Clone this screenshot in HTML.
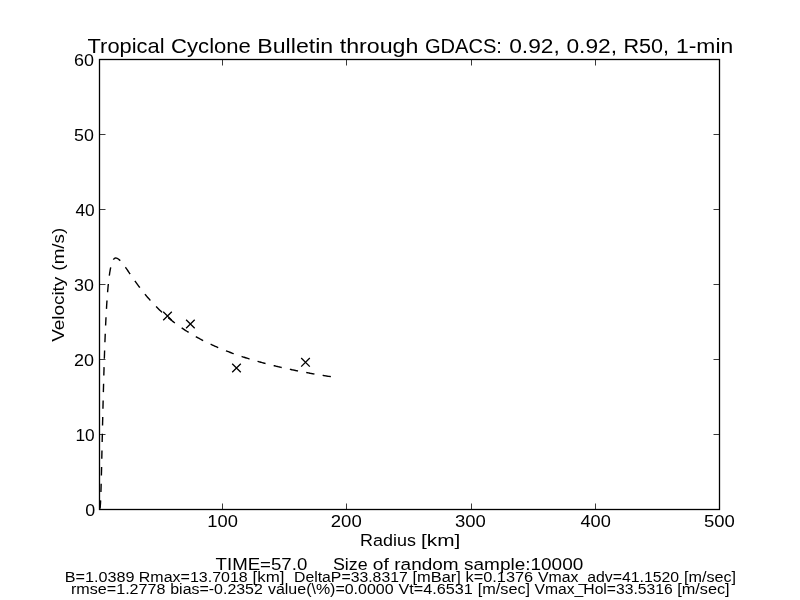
<!DOCTYPE html>
<html><head><meta charset="utf-8"><style>
html,body{margin:0;padding:0;background:#fff;width:800px;height:600px;overflow:hidden}
svg{display:block;will-change:transform}
text{font-family:"Liberation Sans",sans-serif;fill:#000}
</style></head><body>
<svg width="800" height="600" viewBox="0 0 800 600">
<rect x="0" y="0" width="800" height="600" fill="#fff"/>
<g stroke="#3a3a3a" stroke-width="1" fill="none"><path d="M222.5,509.5V503.5M222.5,59.5V65.5"/><path d="M346.5,509.5V503.5M346.5,59.5V65.5"/><path d="M471.5,509.5V503.5M471.5,59.5V65.5"/><path d="M595.5,509.5V503.5M595.5,59.5V65.5"/><path d="M99.5,434.5H105.5M719.5,434.5H713.5"/><path d="M99.5,359.5H105.5M719.5,359.5H713.5"/><path d="M99.5,284.5H105.5M719.5,284.5H713.5"/><path d="M99.5,209.5H105.5M719.5,209.5H713.5"/><path d="M99.5,134.5H105.5M719.5,134.5H713.5"/></g>
<polyline points="99.99,508.68 100.07,508.23 100.15,507.62 100.23,506.85 100.31,505.90 100.39,504.77 100.47,503.43 100.55,501.91 100.62,500.19 100.70,498.28 100.78,496.19 100.86,493.92 100.94,491.50 101.02,488.93 101.10,486.21 101.18,483.37 101.26,480.42 101.34,477.36 101.42,474.22 101.50,470.99 101.58,467.70 101.65,464.36 101.73,460.97 101.81,457.54 101.89,454.08 101.97,450.60 102.05,447.11 102.13,443.62 102.21,440.12 102.29,436.64 102.37,433.16 102.45,429.71 102.53,426.27 102.60,422.86 102.68,419.48 102.76,416.13 102.84,412.81 102.92,409.54 103.00,406.30 103.08,403.10 103.16,399.95 103.24,396.84 103.32,393.77 103.40,390.75 103.48,387.78 103.56,384.86 103.63,381.98 103.71,379.16 103.79,376.38 103.87,373.65 103.95,370.97 104.03,368.34 104.11,365.76 104.19,363.22 104.27,360.74 104.35,358.30 104.43,355.91 104.51,353.57 104.59,351.27 104.66,349.02 104.74,346.81 104.82,344.65 104.90,342.54 104.98,340.46 105.06,338.43 105.14,336.45 105.22,334.50 105.30,332.60 105.38,330.73 105.46,328.91 105.54,327.12 105.61,325.38 105.69,323.67 105.77,322.00 105.85,320.36 105.93,318.76 106.01,317.19 106.09,315.66 106.17,314.16 106.25,312.70 106.33,311.27 106.41,309.87 106.49,308.50 106.57,307.16 106.64,305.85 106.72,304.57 106.80,303.32 106.88,302.10 106.96,300.90 107.04,299.74 107.12,298.60 107.20,297.48 107.28,296.39 107.36,295.32 107.44,294.28 107.52,293.27 107.60,292.27 107.67,291.30 107.75,290.35 107.83,289.43 107.91,288.52 107.99,287.64 108.07,286.78 108.15,285.93 108.23,285.11 108.31,284.31 108.39,283.52 108.47,282.75 108.55,282.01 108.62,281.28 108.70,280.56 108.78,279.87 108.86,279.19 108.94,278.53 109.02,277.88 109.10,277.25 109.18,276.63 109.26,276.03 109.34,275.45 109.42,274.88 109.50,274.32 109.58,273.78 109.65,273.25 109.73,272.73 109.81,272.23 109.89,271.74 109.97,271.26 110.05,270.79 110.13,270.34 110.21,269.90 110.29,269.47 110.37,269.05 110.45,268.64 110.53,268.24 110.61,267.86 110.68,267.48 110.76,267.11 110.84,266.76 110.92,266.41 111.00,266.08 111.08,265.75 111.16,265.43 111.24,265.12 111.32,264.82 111.40,264.53 111.48,264.25 111.56,263.97 111.63,263.71 111.71,263.45 111.79,263.20 111.87,262.96 111.95,262.72 112.03,262.49 112.11,262.27 112.19,262.06 112.27,261.85 112.35,261.66 112.43,261.46 112.51,261.28 112.59,261.10 112.66,260.92 112.74,260.76 112.82,260.60 112.90,260.44 112.98,260.29 113.06,260.15 113.14,260.01 113.22,259.88 113.30,259.75 113.38,259.63 113.46,259.51 113.54,259.40 113.62,259.29 113.69,259.19 113.77,259.10 113.85,259.01 113.93,258.92 114.01,258.84 114.09,258.76 114.17,258.68 114.25,258.61 114.33,258.55 114.41,258.49 114.49,258.43 114.57,258.38 114.64,258.33 114.72,258.28 114.80,258.24 114.88,258.20 114.96,258.17 115.04,258.14 115.12,258.11 115.20,258.09 115.28,258.07 115.36,258.05 115.44,258.04 115.52,258.03 115.60,258.02 115.67,258.01 115.75,258.01 116.48,258.11 117.20,258.36 117.92,258.76 118.64,259.28 119.36,259.89 120.08,260.58 120.80,261.35 121.52,262.18 122.25,263.05 122.97,263.96 123.69,264.91 124.41,265.88 125.13,266.88 125.85,267.89 126.57,268.92 127.30,269.95 128.02,270.99 128.74,272.04 129.46,273.09 130.18,274.14 130.90,275.19 131.62,276.23 132.34,277.27 133.07,278.31 133.79,279.33 134.51,280.36 135.23,281.37 135.95,282.38 136.67,283.38 137.39,284.37 138.12,285.35 138.84,286.32 139.56,287.28 140.28,288.23 141.00,289.17 141.72,290.10 142.44,291.02 143.17,291.93 143.89,292.83 144.61,293.72 145.33,294.60 146.05,295.47 146.77,296.33 147.49,297.18 148.21,298.02 148.94,298.84 149.66,299.66 150.38,300.47 151.10,301.27 151.82,302.06 152.54,302.84 153.26,303.61 153.99,304.38 154.71,305.13 155.43,305.87 156.15,306.61 156.87,307.34 157.59,308.05 158.31,308.76 159.03,309.46 159.76,310.16 160.48,310.84 161.20,311.52 161.92,312.19 162.64,312.85 163.36,313.50 164.08,314.15 164.81,314.79 165.53,315.42 166.25,316.04 166.97,316.66 167.69,317.27 168.41,317.87 169.13,318.47 169.86,319.06 170.58,319.64 171.30,320.22 172.02,320.79 172.74,321.36 173.46,321.91 174.18,322.47 174.90,323.01 175.63,323.55 176.35,324.09 177.07,324.62 177.79,325.14 178.51,325.66 179.23,326.17 179.95,326.68 180.68,327.18 181.40,327.68 182.12,328.17 182.84,328.65 183.56,329.14 184.28,329.61 185.00,330.08 185.72,330.55 186.45,331.01 187.17,331.47 187.89,331.92 188.61,332.37 189.33,332.82 190.05,333.26 190.77,333.69 191.50,334.13 192.22,334.55 192.94,334.98 193.66,335.40 194.38,335.81 195.10,336.22 195.82,336.63 196.55,337.03 197.27,337.43 197.99,337.83 198.71,338.22 199.43,338.61 200.15,339.00 200.87,339.38 201.59,339.76 202.32,340.13 203.04,340.51 203.76,340.87 204.48,341.24 205.20,341.60 205.92,341.96 206.64,342.32 207.37,342.67 208.09,343.02 208.81,343.36 209.53,343.71 210.25,344.05 210.97,344.38 211.69,344.72 212.41,345.05 213.14,345.38 213.86,345.71 214.58,346.03 215.30,346.35 216.02,346.67 216.74,346.98 217.46,347.30 218.19,347.61 218.91,347.91 219.63,348.22 220.35,348.52 221.07,348.82 221.79,349.12 222.51,349.41 223.24,349.71 223.96,350.00 224.68,350.29 225.40,350.57 226.12,350.86 226.84,351.14 227.56,351.42 228.28,351.69 229.01,351.97 229.73,352.24 230.45,352.51 231.17,352.78 231.89,353.05 232.61,353.31 233.33,353.57 234.06,353.83 234.78,354.09 235.50,354.35 236.22,354.60 236.94,354.86 237.66,355.11 238.38,355.36 239.10,355.60 239.83,355.85 240.55,356.09 241.27,356.33 241.99,356.57 242.71,356.81 243.43,357.05 244.15,357.28 244.88,357.51 245.60,357.75 246.32,357.98 247.04,358.20 247.76,358.43 248.48,358.65 249.20,358.88 249.92,359.10 250.65,359.32 251.37,359.54 252.09,359.75 252.81,359.97 253.53,360.18 254.25,360.40 254.97,360.61 255.70,360.82 256.42,361.02 257.14,361.23 257.86,361.44 258.58,361.64 259.30,361.84 260.02,362.04 260.75,362.24 261.47,362.44 262.19,362.64 262.91,362.83 263.63,363.03 264.35,363.22 265.07,363.41 265.79,363.60 266.52,363.79 267.24,363.98 267.96,364.17 268.68,364.35 269.40,364.54 270.12,364.72 270.84,364.90 271.57,365.08 272.29,365.26 273.01,365.44 273.73,365.62 274.45,365.79 275.17,365.97 275.89,366.14 276.61,366.31 277.34,366.48 278.06,366.65 278.78,366.82 279.50,366.99 280.22,367.16 280.94,367.32 281.66,367.49 282.39,367.65 283.11,367.82 283.83,367.98 284.55,368.14 285.27,368.30 285.99,368.46 286.71,368.62 287.44,368.77 288.16,368.93 288.88,369.08 289.60,369.24 290.32,369.39 291.04,369.54 291.76,369.69 292.48,369.84 293.21,369.99 293.93,370.14 294.65,370.29 295.37,370.44 296.09,370.58 296.81,370.73 297.53,370.87 298.26,371.01 298.98,371.16 299.70,371.30 300.42,371.44 301.14,371.58 301.86,371.72 302.58,371.85 303.30,371.99 304.03,372.13 304.75,372.26 305.47,372.40 306.19,372.53 306.91,372.67 307.63,372.80 308.35,372.93 309.08,373.06 309.80,373.19 310.52,373.32 311.24,373.45 311.96,373.58 312.68,373.70 313.40,373.83 314.13,373.96 314.85,374.08 315.57,374.20 316.29,374.33 317.01,374.45 317.73,374.57 318.45,374.69 319.17,374.81 319.90,374.93 320.62,375.05 321.34,375.17 322.06,375.29 322.78,375.41 323.50,375.52 324.22,375.64 324.95,375.75 325.67,375.87 326.39,375.98 327.11,376.10 327.83,376.21 328.55,376.32 329.27,376.43 329.99,376.54 330.72,376.65 331.44,376.76" fill="none" stroke="#000" stroke-width="1.4" stroke-dasharray="8.33 8.33" stroke-dashoffset="0"/>
<g stroke="#000" stroke-width="1.3" fill="none"><path d="M163.20,311.70L171.80,320.30M163.20,320.30L171.80,311.70"/><path d="M186.10,319.70L194.70,328.30M186.10,328.30L194.70,319.70"/><path d="M232.20,363.70L240.80,372.30M232.20,372.30L240.80,363.70"/><path d="M301.20,358.00L309.80,366.60M301.20,366.60L309.80,358.00"/></g>
<rect x="99.5" y="59.5" width="620" height="450" fill="none" stroke="#000" stroke-width="1.3"/>
<text x="87.58" y="52.8" font-size="19.44" textLength="76.94" lengthAdjust="spacingAndGlyphs">Tropical</text>
<text x="171.11" y="52.8" font-size="19.44" textLength="79.80" lengthAdjust="spacingAndGlyphs">Cyclone</text>
<text x="257.31" y="52.8" font-size="19.44" textLength="75.94" lengthAdjust="spacingAndGlyphs">Bulletin</text>
<text x="339.70" y="52.8" font-size="19.44" textLength="78.78" lengthAdjust="spacingAndGlyphs">through</text>
<text x="425.03" y="52.8" font-size="19.44" textLength="76.91" lengthAdjust="spacingAndGlyphs">GDACS:</text>
<text x="509.18" y="52.8" font-size="19.44" textLength="50.60" lengthAdjust="spacingAndGlyphs">0.92,</text>
<text x="566.42" y="52.8" font-size="19.44" textLength="50.61" lengthAdjust="spacingAndGlyphs">0.92,</text>
<text x="623.43" y="52.8" font-size="19.44" textLength="45.64" lengthAdjust="spacingAndGlyphs">R50,</text>
<text x="675.93" y="52.8" font-size="19.44" textLength="57.32" lengthAdjust="spacingAndGlyphs">1-min</text>
<text x="73.96" y="65.75" font-size="16.67" textLength="20.00" lengthAdjust="spacingAndGlyphs">60</text>
<text x="74.10" y="140.75" font-size="16.67" textLength="19.86" lengthAdjust="spacingAndGlyphs">50</text>
<text x="75.41" y="215.75" font-size="16.67" textLength="19.27" lengthAdjust="spacingAndGlyphs">40</text>
<text x="74.10" y="290.75" font-size="16.67" textLength="19.86" lengthAdjust="spacingAndGlyphs">30</text>
<text x="73.96" y="365.75" font-size="16.67" textLength="20.00" lengthAdjust="spacingAndGlyphs">20</text>
<text x="75.45" y="440.75" font-size="16.67" textLength="19.23" lengthAdjust="spacingAndGlyphs">10</text>
<text x="85.33" y="515.8" font-size="16.67" textLength="9.96" lengthAdjust="spacingAndGlyphs">0</text>
<text x="207.38" y="526.9" font-size="16.67" textLength="30.56" lengthAdjust="spacingAndGlyphs">100</text>
<text x="330.77" y="526.9" font-size="16.67" textLength="30.97" lengthAdjust="spacingAndGlyphs">200</text>
<text x="455.07" y="526.9" font-size="16.67" textLength="30.83" lengthAdjust="spacingAndGlyphs">300</text>
<text x="580.49" y="526.9" font-size="16.67" textLength="30.39" lengthAdjust="spacingAndGlyphs">400</text>
<text x="703.97" y="526.9" font-size="16.67" textLength="30.88" lengthAdjust="spacingAndGlyphs">500</text>
<text x="360.05" y="545.75" font-size="16.67" textLength="55.85" lengthAdjust="spacingAndGlyphs">Radius</text>
<text x="421.10" y="545.75" font-size="16.67" textLength="39.27" lengthAdjust="spacingAndGlyphs">[km]</text>
<text x="64.00" y="341.78" transform="rotate(-90 64.00 341.78)" font-size="16.67" textLength="65.10" lengthAdjust="spacingAndGlyphs">Velocity</text>
<text x="64.00" y="270.63" transform="rotate(-90 64.00 270.63)" font-size="16.67" textLength="42.83" lengthAdjust="spacingAndGlyphs">(m/s)</text>
<text x="215.58" y="570" font-size="16.67" textLength="91.69" lengthAdjust="spacingAndGlyphs">TIME=57.0</text>
<text x="332.96" y="570" font-size="16.67" textLength="34.67" lengthAdjust="spacingAndGlyphs">Size</text>
<text x="372.83" y="570" font-size="16.67" textLength="16.06" lengthAdjust="spacingAndGlyphs">of</text>
<text x="394.32" y="570" font-size="16.67" textLength="64.24" lengthAdjust="spacingAndGlyphs">random</text>
<text x="464.09" y="570" font-size="16.67" textLength="119.19" lengthAdjust="spacingAndGlyphs">sample:10000</text>
<text x="64.69" y="582" font-size="13.89" textLength="69.85" lengthAdjust="spacingAndGlyphs">B=1.0389</text>
<text x="138.80" y="582" font-size="13.89" textLength="108.92" lengthAdjust="spacingAndGlyphs">Rmax=13.7018</text>
<text x="252.54" y="582" font-size="13.89" textLength="31.89" lengthAdjust="spacingAndGlyphs">[km]</text>
<text x="293.97" y="582" font-size="13.89" textLength="113.78" lengthAdjust="spacingAndGlyphs">DeltaP=33.8317</text>
<text x="412.46" y="582" font-size="13.89" textLength="48.47" lengthAdjust="spacingAndGlyphs">[mBar]</text>
<text x="465.47" y="582" font-size="13.89" textLength="67.75" lengthAdjust="spacingAndGlyphs">k=0.1376</text>
<text x="537.96" y="582" font-size="13.89" textLength="141.18" lengthAdjust="spacingAndGlyphs">Vmax_adv=41.1520</text>
<text x="683.98" y="582" font-size="13.89" textLength="52.15" lengthAdjust="spacingAndGlyphs">[m/sec]</text>
<text x="70.98" y="594" font-size="13.89" textLength="94.49" lengthAdjust="spacingAndGlyphs">rmse=1.2778</text>
<text x="170.24" y="594" font-size="13.89" textLength="92.62" lengthAdjust="spacingAndGlyphs">bias=-0.2352</text>
<text x="267.96" y="594" font-size="13.89" textLength="125.65" lengthAdjust="spacingAndGlyphs">value(\%)=0.0000</text>
<text x="398.46" y="594" font-size="13.89" textLength="74.31" lengthAdjust="spacingAndGlyphs">Vt=4.6531</text>
<text x="477.72" y="594" font-size="13.89" textLength="52.41" lengthAdjust="spacingAndGlyphs">[m/sec]</text>
<text x="534.47" y="594" font-size="13.89" textLength="138.26" lengthAdjust="spacingAndGlyphs">Vmax_Hol=33.5316</text>
<text x="677.22" y="594" font-size="13.89" textLength="52.41" lengthAdjust="spacingAndGlyphs">[m/sec]</text>

</svg>
</body></html>
